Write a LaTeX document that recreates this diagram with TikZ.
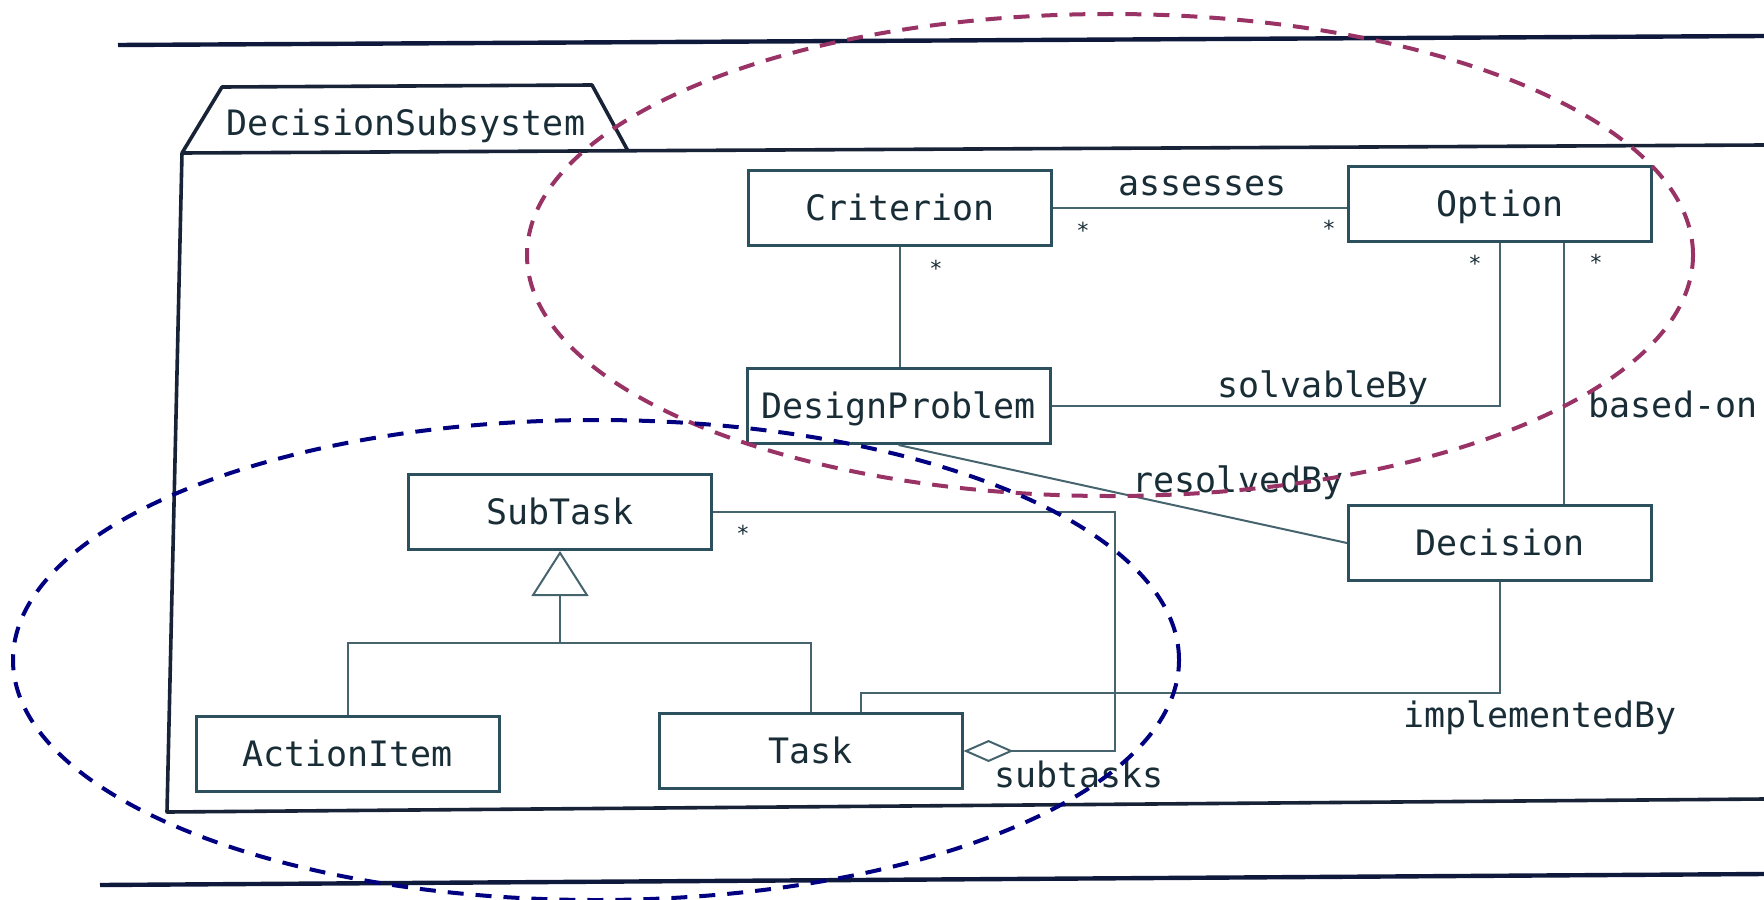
\documentclass[tikz,border=0pt]{standalone}
\usepackage{fontspec}
\newfontfamily\umlfont{DejaVu Sans Mono}
\usetikzlibrary{arrows.meta,calc}
\definecolor{txtc}{RGB}{25,45,55}
\definecolor{boxc}{RGB}{45,80,95}
\definecolor{connc}{RGB}{70,100,110}
\definecolor{pkgc}{RGB}{25,35,55}
\definecolor{pagec}{RGB}{15,25,60}
\definecolor{maroonc}{RGB}{153,51,102}
\definecolor{navyc}{RGB}{0,0,128}
\begin{document}
\begin{tikzpicture}[x=0.5pt,y=-0.5pt,
  cls/.style={draw=boxc, line width=1.5pt, fill=white, minimum width=151.5pt,
    minimum height=37.5pt, inner sep=0pt, text=txtc,
    font=\umlfont\fontsize{17.5}{20}\selectfont, text height=12.75pt, text depth=0pt},
  lbl/.style={font=\umlfont\fontsize{17.5}{20}\selectfont, text=txtc, anchor=base, inner sep=0pt},
  mult/.style={font=\umlfont\fontsize{11}{13}\selectfont, text=txtc, inner sep=0pt, yshift=-2.5pt},
  conn/.style={draw=connc, line width=1pt},
  pkg/.style={draw=pkgc, line width=1.8pt, line join=round},
  pageline/.style={draw=pagec, line width=2.2pt},
  ell/.style={dash pattern=on 8pt off 6pt, line width=2pt}]
\useasboundingbox (0,0) rectangle (1764,899);

% page rules
\draw[pageline] (118,45) -- (1764,36);
\draw[pageline] (100,885) -- (1764,874);

% package
\draw[pkg] (182,153) -- (222,87) -- (592,85) -- (628,151);
\draw[pkg] (1764,145) -- (182,153) -- (167,812) -- (1764,799);
\node[lbl] (pkgname) at (406,135) {DecisionSubsystem};

% classes
\node[cls] (crit) at (900,208) {Criterion};
\node[cls] (opt) at (1500,203.5) {Option};
\node[cls] (dp) at (898.5,406) {DesignProblem};
\node[cls] (dec) at (1500,543) {Decision};
\node[cls] (sub) at (560,512) {SubTask};
\node[cls] (ai) at (347.5,754) {ActionItem};
\node[cls] (task) at (810.5,751) {Task};

% associations
\draw[conn] (crit.east) -- (crit.east -| opt.west);
\draw[conn] (crit.south) -- (crit.south |- dp.north);
\draw[conn] (dp.east) -| (opt.south);
\draw[conn] ($(opt.south)+(64,0)$) -- ($(dec.north)+(64,0)$);
\draw[conn] (dp.south) -- (dec.west);
\draw[conn] (dec.south) |- ($(task.north)+(50,-19)$) -- ($(task.north)+(50,0)$);
\draw[conn, {Diamond[open,fill=white,length=25pt,width=11pt]}-] (task.east) -- ++(151,0) |- (sub.east);

% generalization
\draw[conn, {Triangle[open,fill=white,length=22.5pt,width=28.5pt]}-] (sub.south) -- ++(0,92) coordinate (gen);
\draw[conn] (ai.north) |- (gen) -| (task.north);

% labels
\node[lbl] (lassesses) at (1202.5,195) {assesses};
\node[lbl] (lsolv) at (1323,397) {solvableBy};
\node[lbl] (lbased) at (1673,417) {based-on};
\node[lbl] (lresolved) at (1238,492) {resolvedBy};
\node[lbl] (limpl) at (1540,727) {implementedBy};
\node[lbl] (lsubtasks) at (1079,787) {subtasks};

% multiplicities
\node[mult] (m1) at (1083,225) {*};
\node[mult] (m2) at (1329,223) {*};
\node[mult] (m3) at (936,263) {*};
\node[mult] (m4) at (1475,258) {*};
\node[mult] (m5) at (1596,257) {*};
\node[mult] (m6) at (743,528) {*};

% highlight ellipses
\draw[ell, draw=maroonc] (1110,255) ellipse [x radius=291.5pt, y radius=120.5pt];
\draw[ell, draw=navyc] (596,660) ellipse [x radius=291.5pt, y radius=120pt];
\end{tikzpicture}
\end{document}
